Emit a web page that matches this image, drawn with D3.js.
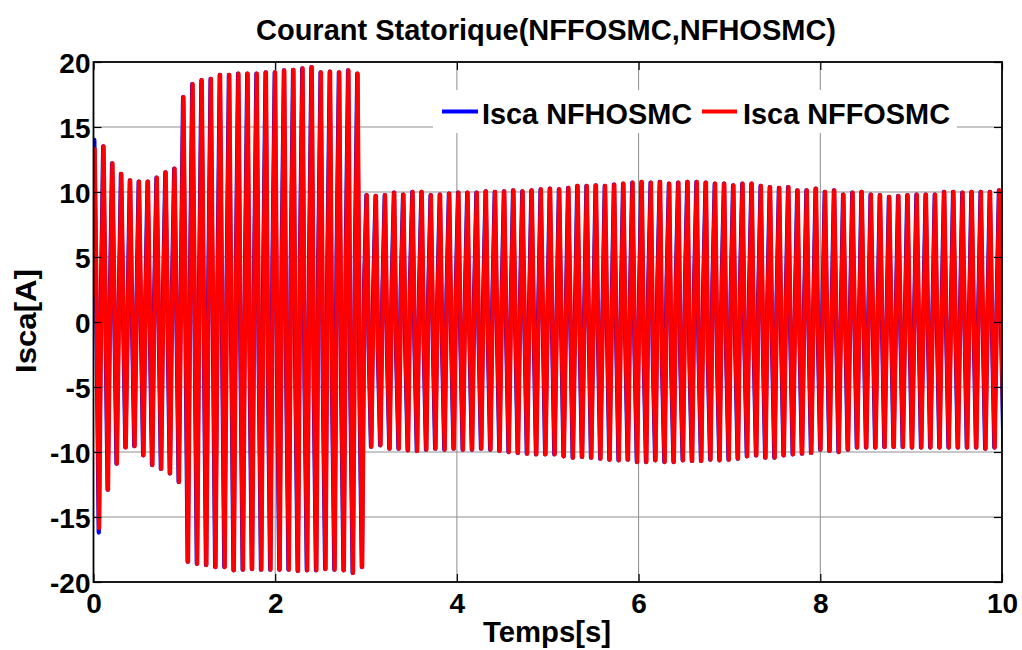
<!DOCTYPE html>
<html>
<head>
<meta charset="utf-8">
<script src="https://cdn.jsdelivr.net/npm/d3@7"></script>
<style>
  html, body { margin: 0; padding: 0; background: #fff; }
  svg { display: block; }
  text { font-family: "Liberation Sans", Arial, Helvetica, sans-serif; font-weight: bold; fill: #000; }
</style>
</head>
<body>
<svg id="chart" width="1022" height="650"></svg>
<script>
// Stator phase current isca, one entry per electrical period.
// Peaks / troughs are the extremes of each period, the knees are the
// samples taken on the rising and falling edges.
const ffPeaks = [
  13.3, 13.5, 12.2, 11.4, 10.9, 10.8, 10.8, 11.1, 11.5, 11.8,
  17.3, 18.3, 18.6, 18.7, 19.0, 19.0, 19.1, 19.1, 19.1, 19.2,
  19.2, 19.35, 19.4, 19.5, 19.6, 19.2, 19.25, 19.2, 19.35, 19.1,
  9.75, 9.7, 9.75, 9.95, 9.8, 10.0, 10.0, 9.75, 9.8, 9.88,
  9.95, 9.95, 9.95, 10.05, 10.0, 10.05, 10.13, 10.05, 10.13, 10.2,
  10.26, 10.2, 10.31, 10.46, 10.46, 10.51, 10.46, 10.57, 10.64, 10.72,
  10.77, 10.72, 10.77, 10.64, 10.72, 10.77, 10.77, 10.72, 10.64, 10.64,
  10.51, 10.64, 10.64, 10.46, 10.38, 10.31, 10.38, 10.13, 10.13, 10.26,
  10.0, 10.13, 9.8, 9.95, 10.0, 9.8, 9.75, 9.62, 9.7, 9.75,
  9.8, 9.8, 9.8, 10.0, 10.0, 9.95, 10.0, 10.0, 10.0, 10.13
];
const ffTroughs = [
  -15.85, -12.9, -10.9, -9.65, -9.55, -10.25, -11.0, -11.3, -11.65, -12.3,
  -18.45, -18.6, -18.7, -18.85, -18.85, -19.1, -19.05, -19.0, -19.05, -19.05,
  -19.05, -19.05, -19.15, -19.1, -19.1, -19.0, -19.05, -19.1, -19.3, -18.85,
  -9.6, -9.48, -9.74, -9.74, -9.87, -9.92, -9.82, -9.74, -9.82, -9.74,
  -9.82, -9.82, -9.74, -9.82, -9.92, -10.0, -10.07, -10.13, -10.18, -10.18,
  -10.18, -10.33, -10.44, -10.38, -10.44, -10.51, -10.59, -10.64, -10.59, -10.77,
  -10.77, -10.64, -10.77, -10.77, -10.64, -10.69, -10.69, -10.59, -10.64, -10.59,
  -10.51, -10.33, -10.26, -10.44, -10.44, -10.26, -10.18, -10.13, -10.07, -9.82,
  -9.92, -10.0, -9.82, -9.66, -9.66, -9.66, -9.61, -9.61, -9.61, -9.66,
  -9.66, -9.66, -9.66, -9.66, -9.66, -9.66, -9.66, -9.74, -9.66, -9.7
];
const ffRiseKnee = [
  2.0, 2.2, 1.6, 1.2, 1.0, 1.4, 1.8, 2.0, 2.3, 2.5,
  2.6, 2.8, 2.9, 2.7, 2.6, 2.9, 3.3, 3.6, 3.9, 4.1,
  4.3, 4.5, 4.7, 4.8, 5.0, 5.1, 5.0, 5.2, 5.3, 5.2,
  2.8, 2.6, 2.4, 2.5, 2.7, 2.9, 2.6, 2.3, 2.2, 2.4,
  2.3, 2.1, 2.0, 2.2, 1.9, 1.7, 1.5, 1.3, 1.2, 1.1,
  0.9, 0.8, 0.6, 0.5, 0.3, 0.4, 0.5, 0.8, 1.2, 1.8,
  2.4, 2.9, 3.2, 3.1, 3.0, 2.8, 2.9, 2.9, 3.0, 2.8,
  2.6, 2.7, 2.5, 2.2, 2.0, 1.8, 1.7, 1.5, 1.2, 1.0,
  0.8, 0.7, 0.5, 0.4, 0.5, 0.3, 0.2, 0.4, 0.6, 0.5,
  0.3, 0.5, 0.7, 0.9, 0.6, 0.4, 0.8, 1.0, 0.9, 1.2
];
const ffFallKnee = [
  -0.6, 0.3, 0.6, 0.4, 0.0, -0.3, -0.5, -0.2, 0.1, 0.4,
  0.6, 0.2, -0.3, -0.6, -0.9, -1.3, -2.0, -2.5, -3.0, -3.4,
  -3.8, -4.1, -4.4, -4.6, -4.8, -5.0, -5.1, -5.3, -5.4, -5.5,
  -2.0, -2.2, -2.4, -2.6, -2.4, -2.0, -1.8, -1.6, -1.7, -1.5,
  -1.4, -1.5, -1.6, -1.3, -1.1, -1.0, -0.9, -0.8, -0.7, -0.6,
  -0.5, -0.4, -0.3, -0.4, -0.5, -0.6, -0.8, -1.2, -1.7, -2.2,
  -2.7, -3.1, -3.4, -3.5, -3.3, -3.2, -3.0, -3.0, -2.8, -2.6,
  -2.4, -2.2, -2.0, -1.8, -1.7, -1.5, -1.4, -1.3, -1.1, -1.0,
  -0.9, -0.8, -0.6, -0.5, -0.4, -0.5, -0.3, -0.4, -0.6, -0.5,
  -0.4, -0.6, -0.7, -0.8, -0.6, -0.5, -0.7, -0.9, -0.8, -1.0
];
// NFHOSMC follows NFFOSMC except for a larger first inrush period.
const hoFirstPeak = 14.0;
const hoFirstTrough = -16.2;

// Period timing (s): start-up periods are slightly shorter.
const startupPeriods = 10;
const firstPeakTime = 0.013;
const startupPeriod = 0.0977;
const steadyPeriod = 0.1009;

const xTicks = [0, 2, 4, 6, 8, 10];
const yTicks = [-20, -15, -10, -5, 0, 5, 10, 15, 20];
const seriesNames = ["Isca NFHOSMC", "Isca NFFOSMC"];
const seriesColors = ["#0000ff", "#ff0000"];

const svg = d3.select("#chart");
const plot = { left: 93.5, right: 1002, top: 62, bottom: 582 };
const x = d3.scaleLinear().domain([0, 10]).range([plot.left, plot.right]);
const y = d3.scaleLinear().domain([-20, 20]).range([plot.bottom, plot.top]);

function peakTime(i) {
  return i < startupPeriods
    ? firstPeakTime + i * startupPeriod
    : firstPeakTime + startupPeriods * startupPeriod + (i - startupPeriods) * steadyPeriod;
}
function periodAt(i) { return i < startupPeriods ? startupPeriod : steadyPeriod; }

function buildSeries(peaks, troughs, rise, fall, lag) {
  const pts = [];
  peaks.forEach((p, i) => {
    const t = peakTime(i) + lag, T = periodAt(i);
    pts.push([t - T / 4, rise[i]]);
    pts.push([t, p]);
    pts.push([t + T / 4, fall[i]]);
    pts.push([t + T / 2, troughs[i]]);
  });
  return pts;
}

const hoPeaks = ffPeaks.slice(); hoPeaks[0] = hoFirstPeak;
const hoTroughs = ffTroughs.slice(); hoTroughs[0] = hoFirstTrough;

const seriesHO = buildSeries(hoPeaks, hoTroughs, ffRiseKnee, ffFallKnee, -0.004);
const seriesFF = buildSeries(ffPeaks, ffTroughs, ffRiseKnee, ffFallKnee, 0);

// Clip
svg.append("clipPath").attr("id", "plotClip")
  .append("rect")
  .attr("x", plot.left).attr("y", plot.top)
  .attr("width", plot.right - plot.left).attr("height", plot.bottom - plot.top);

// Grid
const grid = svg.append("g");
grid.selectAll("line.h").data(yTicks.slice(1, -1)).enter().append("line")
  .attr("x1", plot.left).attr("x2", plot.right)
  .attr("y1", d => y(d)).attr("y2", d => y(d))
  .attr("stroke", "#b4b4b4").attr("stroke-width", 1.6);
grid.selectAll("line.v").data(xTicks.slice(1, -1)).enter().append("line")
  .attr("y1", plot.top).attr("y2", plot.bottom)
  .attr("x1", d => x(d)).attr("x2", d => x(d))
  .attr("stroke", "#8c8c8c").attr("stroke-width", 1);

// Series
const line = d3.line().x(d => x(d[0])).y(d => y(d[1]));
const lines = svg.append("g").attr("clip-path", "url(#plotClip)");
lines.append("path").attr("d", line(seriesHO))
  .attr("fill", "none").attr("stroke", seriesColors[0]).attr("stroke-width", 4.3)
  .attr("stroke-linejoin", "round").attr("stroke-linecap", "round");
lines.append("path").attr("d", line(seriesFF))
  .attr("fill", "none").attr("stroke", seriesColors[1]).attr("stroke-width", 4.3)
  .attr("stroke-linejoin", "round").attr("stroke-linecap", "round");

// Axes (ticks inward on all four sides)
const tickLen = 8;
const axB = svg.append("g").attr("transform", `translate(0,${plot.bottom})`)
  .call(d3.axisBottom(x).tickValues(xTicks).tickSize(-tickLen).tickPadding(11).tickFormat(d3.format("d")));
const axT = svg.append("g").attr("transform", `translate(0,${plot.top})`)
  .call(d3.axisTop(x).tickValues(xTicks).tickSize(-tickLen).tickFormat(""));
const axL = svg.append("g").attr("transform", `translate(${plot.left},0)`)
  .call(d3.axisLeft(y).tickValues(yTicks).tickSize(-tickLen).tickPadding(3).tickFormat(d => d < 0 ? "-" + Math.abs(d) : d));
const axR = svg.append("g").attr("transform", `translate(${plot.right},0)`)
  .call(d3.axisRight(y).tickValues(yTicks).tickSize(-tickLen).tickFormat(""));
[axB, axT, axL, axR].forEach(a => {
  a.select(".domain").remove();
  a.selectAll(".tick line").attr("stroke", "#000").attr("stroke-width", 1.2);
});
axB.selectAll(".tick text").attr("font-size", 28).attr("dy", "0.71em");
axL.selectAll(".tick text").attr("font-size", 28).attr("dy", "0.36em");

svg.append("rect")
  .attr("x", plot.left).attr("y", plot.top)
  .attr("width", plot.right - plot.left).attr("height", plot.bottom - plot.top)
  .attr("fill", "none").attr("stroke", "#000").attr("stroke-width", 1.8);

// Titles
function stretchTo(sel, width) {
  sel.attr("textLength", width).attr("lengthAdjust", "spacingAndGlyphs");
}
const title = svg.append("text").attr("x", 546).attr("y", 40)
  .attr("text-anchor", "middle").attr("font-size", 29)
  .text("Courant Statorique(NFFOSMC,NFHOSMC)");
stretchTo(title, 580);
const xLabel = svg.append("text").attr("x", 547).attr("y", 642)
  .attr("text-anchor", "middle").attr("font-size", 29).text("Temps[s]");
stretchTo(xLabel, 128);
const yLabel = svg.append("text")
  .attr("transform", `translate(35.5,321) rotate(-90)`)
  .attr("text-anchor", "middle").attr("font-size", 29).text("Isca[A]");
stretchTo(yLabel, 104);

// Legend
const legend = svg.append("g");
legend.append("rect").attr("x", 433).attr("y", 90).attr("width", 524).attr("height", 43).attr("fill", "#fff");
const legendItems = [
  { x0: 442, x1: 478, tx: 482, tw: 210 },
  { x0: 702, x1: 737, tx: 743, tw: 207 }
];
legendItems.forEach((it, i) => {
  legend.append("line").attr("x1", it.x0).attr("x2", it.x1).attr("y1", 111.5).attr("y2", 111.5)
    .attr("stroke", seriesColors[i]).attr("stroke-width", 4);
  const t = legend.append("text").attr("x", it.tx).attr("y", 123.5).attr("font-size", 29).text(seriesNames[i]);
  stretchTo(t, it.tw);
});
</script>
</body>
</html>
